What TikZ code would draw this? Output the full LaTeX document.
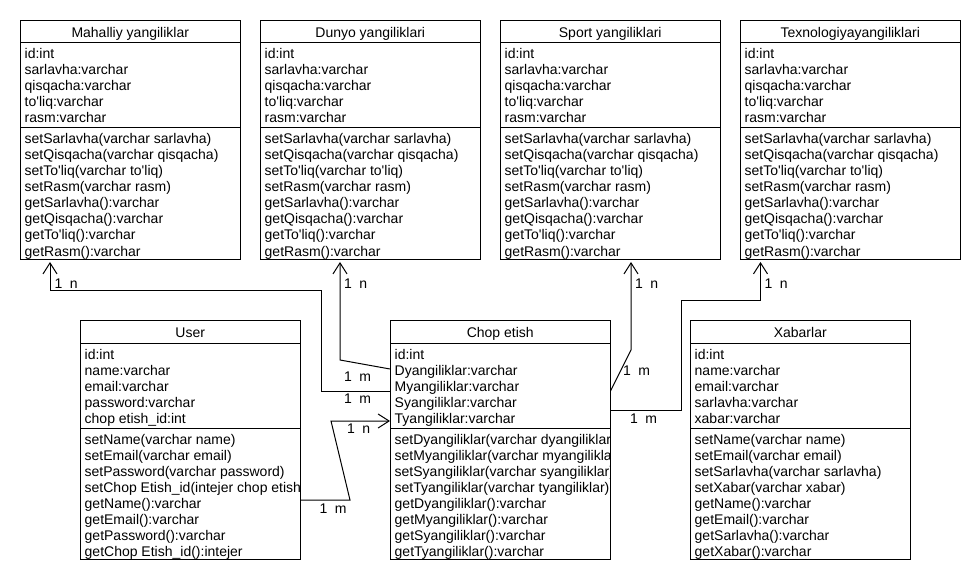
\documentclass[tikz,border=0pt]{standalone}
\usepackage{fontspec}
\setmainfont{Liberation Sans}
\usetikzlibrary{arrows.meta,calc}
\newcommand\ap{\textquotesingle}
\tikzset{
  classbox/.style={draw, line width=1pt, minimum width=219.5pt, minimum height=239pt, inner sep=0pt, anchor=north west},
  txt/.style={anchor=base west, inner sep=0pt, font=\fontsize{14}{16}\selectfont},
  ttl/.style={anchor=base, inner sep=0pt, font=\fontsize{14}{16}\selectfont},
  mult/.style={anchor=base west, inner sep=0pt, font=\fontsize{14}{16}\selectfont},
  link/.style={line width=1pt},
  assoc/.style={line width=1pt, -{Straight Barb[length=11pt,width=14pt,line width=1pt]}},
}
\newcommand\umlclass[6]{%
  \node[classbox] (#1) at (#2,#3) {};
  \draw[link] ([yshift=-23pt]#1.north west) -- ([yshift=-23pt]#1.north east);
  \draw[link] ([yshift=-108pt]#1.north west) -- ([yshift=-108pt]#1.north east);
  \node[ttl] (#1-t) at ([yshift=-17.5pt]#1.north) {#4};
  \begin{scope}
    \clip (#1.north west) rectangle (#1.south east);
    \foreach \mline [count=\i] in {#5}
      \node[txt] (#1-a\i) at ($(#1.north west)+(4.5,23+16*\i)$) {\mline};
    \foreach \mline [count=\i] in {#6}
      \node[txt] (#1-m\i) at ($(#1.north west)+(4.5,108+16*\i)$) {\mline};
  \end{scope}
}
\newcommand\newsattrs{id:int, sarlavha:varchar, qisqacha:varchar, to\ap liq:varchar, rasm:varchar}
\newcommand\newsmeths{setSarlavha(varchar sarlavha), setQisqacha(varchar qisqacha), setTo\ap liq(varchar to\ap liq), setRasm(varchar rasm), getSarlavha():varchar, getQisqacha():varchar, getTo\ap liq():varchar, getRasm():varchar}
\begin{document}
\begin{tikzpicture}[x=1pt,y=-1pt]
\useasboundingbox[fill=white] (0,0) rectangle (980,580);

\umlclass{mah}{20}{20}{Mahalliy yangiliklar}{id:int, sarlavha:varchar, qisqacha:varchar, to\ap liq:varchar, rasm:varchar}{setSarlavha(varchar sarlavha), setQisqacha(varchar qisqacha), setTo\ap liq(varchar to\ap liq), setRasm(varchar rasm), getSarlavha():varchar, getQisqacha():varchar, getTo\ap liq():varchar, getRasm():varchar}
\umlclass{dun}{260}{20}{Dunyo yangiliklari}{id:int, sarlavha:varchar, qisqacha:varchar, to\ap liq:varchar, rasm:varchar}{setSarlavha(varchar sarlavha), setQisqacha(varchar qisqacha), setTo\ap liq(varchar to\ap liq), setRasm(varchar rasm), getSarlavha():varchar, getQisqacha():varchar, getTo\ap liq():varchar, getRasm():varchar}
\umlclass{spo}{500}{20}{Sport yangiliklari}{id:int, sarlavha:varchar, qisqacha:varchar, to\ap liq:varchar, rasm:varchar}{setSarlavha(varchar sarlavha), setQisqacha(varchar qisqacha), setTo\ap liq(varchar to\ap liq), setRasm(varchar rasm), getSarlavha():varchar, getQisqacha():varchar, getTo\ap liq():varchar, getRasm():varchar}
\umlclass{tex}{740}{20}{Texnologiyayangiliklari}{id:int, sarlavha:varchar, qisqacha:varchar, to\ap liq:varchar, rasm:varchar}{setSarlavha(varchar sarlavha), setQisqacha(varchar qisqacha), setTo\ap liq(varchar to\ap liq), setRasm(varchar rasm), getSarlavha():varchar, getQisqacha():varchar, getTo\ap liq():varchar, getRasm():varchar}

\umlclass{user}{80}{320}{User}{id:int, name:varchar, email:varchar, password:varchar, chop etish\_id:int}{setName(varchar name), setEmail(varchar email), setPassword(varchar password), setChop Etish\_id(intejer chop etish\_id), getName():varchar, getEmail():varchar, getPassword():varchar, getChop Etish\_id():intejer}
\umlclass{chop}{390}{320}{Chop etish}{id:int, Dyangiliklar:varchar, Myangiliklar:varchar, Syangiliklar:varchar, Tyangiliklar:varchar}{setDyangiliklar(varchar dyangiliklar), setMyangiliklar(varchar myangiliklar), setSyangiliklar(varchar syangiliklar), setTyangiliklar(varchar tyangiliklar), getDyangiliklar():varchar, getMyangiliklar():varchar, getSyangiliklar():varchar, getTyangiliklar():varchar}
\umlclass{xab}{690}{320}{Xabarlar}{id:int, name:varchar, email:varchar, sarlavha:varchar, xabar:varchar}{setName(varchar name), setEmail(varchar email), setSarlavha(varchar sarlavha), setXabar(varchar xabar), getName():varchar, getEmail():varchar, getSarlavha():varchar, getXabar():varchar}

% connectors
\draw[assoc, shorten >=2pt] ([yshift=-71pt]chop.north west) -- (321,391) -- (321,290.5) -- (50,290.5) -- ([xshift=30pt]mah.south west);
\draw[assoc, shorten >=2pt] ([yshift=-49pt]chop.north west) -- (340,360) -- ([xshift=80pt]dun.south west);
\draw[assoc] ([yshift=-180pt]user.north east) -- (350,500) -- (331,421) -- ([yshift=-101pt]chop.north west);
\draw[assoc, shorten >=2pt] ([yshift=-71pt]chop.north east) -- (631,350) -- ([xshift=131pt]spo.south west);
\draw[assoc, shorten >=2pt] ([yshift=-90pt]chop.north east) -- (681,410) -- (681,300) -- (760.5,300) -- ([xshift=20.5pt]tex.south west);

% multiplicities
\node[mult] (l1) at (54.5,288) {1\hspace{7.5pt}n};
\node[mult] (l2) at (344,288) {1\hspace{7.5pt}n};
\node[mult] (l3) at (635,288) {1\hspace{7.5pt}n};
\node[mult] (l4) at (764.5,288) {1\hspace{7.5pt}n};
\node[mult] (l5) at (344,381) {1\hspace{7.5pt}m};
\node[mult] (l6) at (344,403) {1\hspace{7.5pt}m};
\node[mult] (l7) at (347,433) {1\hspace{7.5pt}n};
\node[mult] (l8) at (319.5,513) {1\hspace{7.5pt}m};
\node[mult] (l9) at (623,375) {1\hspace{7.5pt}m};
\node[mult] (l10) at (630,423) {1\hspace{7.5pt}m};
\end{tikzpicture}
\end{document}
